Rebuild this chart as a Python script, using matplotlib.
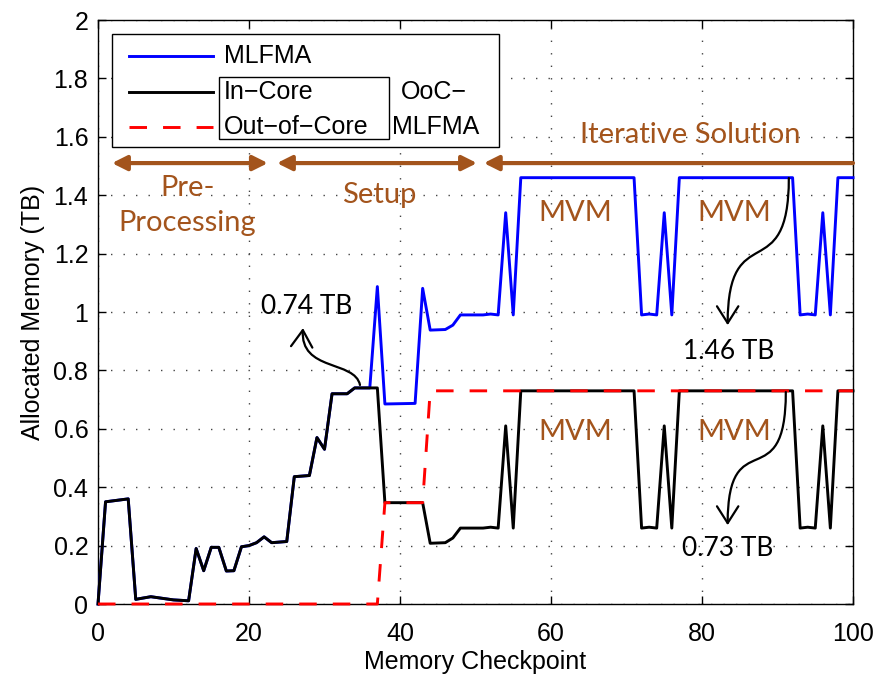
import matplotlib
matplotlib.use('Agg')
import matplotlib.pyplot as plt
from matplotlib.lines import Line2D
from matplotlib.patches import Rectangle, FancyArrowPatch
from matplotlib.path import Path

# memory checkpoints and allocated memory (TB)
incore_x = [0, 1, 4, 5, 7, 10, 12, 13, 14, 15, 16, 17, 18, 19, 20, 21, 22, 23, 25,
            26, 28, 29, 30, 31, 33, 34, 37, 38, 43, 44, 46, 47, 48, 51, 52, 53, 54,
            55, 56, 71, 72, 73, 74, 75, 76, 77, 92, 93, 94, 95, 96, 97, 98, 100]
incore_y = [0, 0.35, 0.36, 0.016, 0.025, 0.014, 0.011, 0.19, 0.114, 0.194, 0.194,
            0.113, 0.114, 0.196, 0.20, 0.21, 0.23, 0.21, 0.214, 0.436, 0.44, 0.57,
            0.53, 0.72, 0.72, 0.74, 0.74, 0.347, 0.347, 0.208, 0.21, 0.226, 0.26,
            0.26, 0.263, 0.26, 0.61, 0.26, 0.73, 0.73, 0.26, 0.263, 0.26, 0.61,
            0.26, 0.73, 0.73, 0.26, 0.263, 0.26, 0.61, 0.26, 0.73, 0.73]

mlfma_x = [0, 1, 4, 5, 7, 10, 12, 13, 14, 15, 16, 17, 18, 19, 20, 21, 22, 23, 25,
           26, 28, 29, 30, 31, 33, 34, 36, 37, 38, 42, 43, 44, 46, 47, 48, 51, 52,
           53, 54, 55, 56, 71, 72, 73, 74, 75, 76, 77, 92, 93, 94, 95, 96, 97, 98, 100]
mlfma_y = [0, 0.35, 0.36, 0.016, 0.025, 0.014, 0.011, 0.19, 0.114, 0.194, 0.194,
           0.113, 0.114, 0.196, 0.20, 0.21, 0.23, 0.21, 0.214, 0.436, 0.44, 0.57,
           0.53, 0.72, 0.72, 0.74, 0.74, 1.087, 0.685, 0.687, 1.081, 0.938, 0.94,
           0.955, 0.99, 0.99, 0.993, 0.99, 1.34, 0.99, 1.46, 1.46, 0.99, 0.993,
           0.99, 1.34, 0.99, 1.46, 1.46, 0.99, 0.993, 0.99, 1.34, 0.99, 1.46, 1.46]

ooc_x = [0, 37, 38, 43, 44, 100]
ooc_y = [0, 0, 0.347, 0.347, 0.73, 0.73]

series_labels = ['MLFMA', 'In\u2212Core', 'Out\u2212of\u2212Core']
xticks = [0, 20, 40, 60, 80, 100]
yticks = [0, 0.2, 0.4, 0.6, 0.8, 1, 1.2, 1.4, 1.6, 1.8, 2]
ytick_labels = ['0', '0.2', '0.4', '0.6', '0.8', '1', '1.2', '1.4', '1.6', '1.8', '2']

# phases: (label, start, end, text x, text y)
phases = [('Pre-\nProcessing', 1.85, 22.5, 11.8, 1.365),
          ('Setup', 23.7, 50.2, 37.3, 1.40),
          ('Iterative Solution', 51.1, 100, 78.4, 1.605)]
mvm_x = [63.2, 84.3]

BROWN = '#A3541C'
MATLAB_FONT = ['Liberation Sans', 'DejaVu Sans']
NOTE_FONT = ['Lato', 'DejaVu Sans']
W, H = 877, 675


def px(x, y):
    return x / W, 1 - y / H


fig = plt.figure(figsize=(W / 100, H / 100), dpi=100)
ax = fig.add_axes([98 / W, 1 - 604 / H, 755 / W, 584 / H])

ax.plot(mlfma_x, mlfma_y, color='#0000FF', lw=2.1, clip_on=False, zorder=3)
ax.plot(incore_x, incore_y, color='black', lw=2.1, clip_on=False, zorder=4)
ax.plot(ooc_x, ooc_y, color='#FF0000', lw=2.1, ls=(0, (6, 5.5)), clip_on=False, zorder=5)

ax.set_xlim(0, 100)
ax.set_ylim(0, 2)
ax.set_xticks(xticks)
ax.set_yticks(yticks)
ax.set_yticklabels(ytick_labels)
ax.tick_params(direction='in', length=6, width=1, top=True, right=True,
               labelsize=18, pad=7)
ax.tick_params(axis='x', pad=13)
for lbl in ax.get_xticklabels() + ax.get_yticklabels():
    lbl.set_family(MATLAB_FONT)
ax.grid(True, color='#444444', lw=1.0, ls=(0, (1, 8)))
for sp in ax.spines.values():
    sp.set_linewidth(1.0)

ax.set_xlabel('Memory Checkpoint', fontsize=18, family=MATLAB_FONT, labelpad=3)
ax.set_ylabel('Allocated Memory (TB)', fontsize=18, family=MATLAB_FONT, labelpad=6)

# phase arrows and labels
for label, x0, x1, tx, ty in phases:
    style = '<|-|>' if x1 < 100 else '<|-'
    arr = FancyArrowPatch((x0, 1.51), (x1, 1.51), arrowstyle=style,
                          mutation_scale=22, color=BROWN, lw=3, zorder=6,
                          clip_on=False, shrinkA=0, shrinkB=0)
    ax.add_patch(arr)
    ax.text(tx, ty, label, color=BROWN, fontsize=21, family=NOTE_FONT,
            ha='center', va='center', linespacing=1.45, zorder=6)
for mx in mvm_x:
    ax.text(mx, 1.34, 'MVM', color=BROWN, fontsize=21, family=NOTE_FONT,
            ha='center', va='center', zorder=6)
    ax.text(mx, 0.59, 'MVM', color=BROWN, fontsize=21, family=NOTE_FONT,
            ha='center', va='center', zorder=6)

# curved callouts for the memory levels
callouts = [('0.74 TB', [(34.7, 0.75), (34.0, 0.836), (26.75, 0.795), (27.15, 0.945)], (27.6, 1.02)),
            ('1.46 TB', [(91.5, 1.459), (91.5, 1.075), (83.4, 1.332), (83.4, 0.955)], (83.6, 0.865)),
            ('0.73 TB', [(91.1, 0.726), (91.1, 0.356), (83.4, 0.63), (83.4, 0.27)], (83.4, 0.19))]
for text, pts, tpos in callouts:
    path = Path(pts, [Path.MOVETO, Path.CURVE4, Path.CURVE4, Path.CURVE4])
    arr = FancyArrowPatch(path=path, arrowstyle='->,head_length=0.55,head_width=0.35',
                          mutation_scale=22, color='black', lw=1.6, zorder=7)
    ax.add_patch(arr)
    ax.text(tpos[0], tpos[1], text, fontsize=19, family=NOTE_FONT,
            ha='center', va='center', zorder=7)

# legend box
x0, y0 = px(112, 147)
x1, y1 = px(499, 34)
fig.add_artist(Rectangle((x0, y0), x1 - x0, y1 - y0, transform=fig.transFigure,
                         facecolor='white', edgecolor='black', lw=1.0, zorder=10))
ix0, iy0 = px(219, 139)
ix1, iy1 = px(389, 77)
fig.add_artist(Rectangle((ix0, iy0), ix1 - ix0, iy1 - iy0, transform=fig.transFigure,
                         facecolor='none', edgecolor='black', lw=1.0, zorder=11))
styles = [dict(color='#0000FF', ls='-'), dict(color='black', ls='-'),
          dict(color='#FF0000', ls=(0, (6, 5.5)))]
for i, (label, st) in enumerate(zip(series_labels, styles)):
    yy = [56, 92, 127][i]
    a, b = px(129, yy)
    c, _ = px(213, yy)
    fig.add_artist(Line2D([a, c], [b, b], transform=fig.transFigure, lw=2.1,
                          zorder=11, **st))
    tx, ty = px(224, yy)
    fig.text(tx, ty, label, fontsize=18, family=MATLAB_FONT, va='center',
             ha='left', zorder=12)
tx, ty = px(401, 92)
fig.text(tx, ty, 'OoC\u2212', fontsize=18, family=MATLAB_FONT, va='center', zorder=12)
tx, ty = px(392, 127)
fig.text(tx, ty, 'MLFMA', fontsize=18, family=MATLAB_FONT, va='center', zorder=12)

fig.savefig('out.png', dpi=100)
